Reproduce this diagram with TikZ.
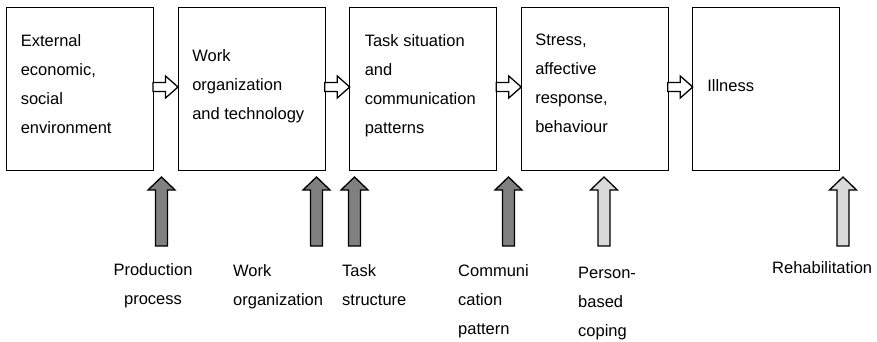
\documentclass[tikz,border=0pt]{standalone}
\usepackage{fontspec}
\setmainfont{Liberation Sans}
\usetikzlibrary{calc}
\definecolor{darkfill}{gray}{0.5}
\definecolor{lightfill}{gray}{0.85}
\begin{document}
\begin{tikzpicture}[x=1pt,y=-1pt,
  box/.style={draw=black, line width=0.8pt, minimum width=147pt, minimum height=163pt, inner sep=0pt},
  txt/.style={anchor=north west, inner sep=0pt, align=left, font=\fontsize{16.5}{29}\selectfont},
  ctxt/.style={txt, anchor=north, align=center},
  % hollow block arrow leading from one stage to the next
  pics/flowarrow/.style={code={
    \draw[line width=1.3pt, fill=white]
      (-12.5,-4.5) -- (0,-4.5) -- (0,-11) -- (12.5,0) -- (0,11) -- (0,4.5) -- (-12.5,4.5) -- cycle;}},
  % filled block arrow pointing up, tip at the origin
  pics/inputarrow/.style={code={
    \draw[line width=1.3pt, fill=#1]
      (0,0) -- (13.5,13) -- (6,13) -- (6,69) -- (-6,69) -- (-6,13) -- (-13.5,13) -- cycle;}}
]
\useasboundingbox (0,0) rectangle (877,341);

% stages
\node[box] (b1) at (79.5,88.5) {};
\node[box] (b2) at (251.5,88.5) {};
\node[box] (b3) at (423,88.5) {};
\node[box] (b4) at (594.5,88.5) {};
\node[box] (b5) at (766,88.5) {};

\node[txt] (t1) at ($(b1.north west)+(15,27.3)$) {External\\economic,\\social\\environment};
\node[txt] (t2) at ($(b2.north west)+(14.5,42.5)$) {Work\\organization\\and technology};
\node[txt] (t3) at ($(b3.north west)+(15.5,27.3)$) {Task situation\\and\\communication\\patterns};
\node[txt] (t4) at ($(b4.north west)+(14.5,27.3)$) {Stress,\\affective\\response,\\behaviour};
\node[txt] (t5) at ($(b5.north west)+(15,72.5)$) {Illness};

% stage-to-stage arrows
\pic at ($(b1.east)!0.5!(b2.west)+(0,-1.5)$) {flowarrow};
\pic at ($(b2.east)!0.5!(b3.west)+(0,-1.5)$) {flowarrow};
\pic at ($(b3.east)!0.5!(b4.west)+(0,-1.5)$) {flowarrow};
\pic at ($(b4.east)!0.5!(b5.west)+(0,-1.5)$) {flowarrow};

% influences acting from below
\coordinate (p1) at (161.5,177);
\coordinate (p2) at (316.5,177);
\coordinate (p3) at (354.5,177);
\coordinate (p4) at (508.5,177);
\coordinate (p5) at (604,177);
\coordinate (p6) at (843,177);
\pic at (p1) {inputarrow=darkfill};
\pic at (p2) {inputarrow=darkfill};
\pic at (p3) {inputarrow=darkfill};
\pic at (p4) {inputarrow=darkfill};
\pic at (p5) {inputarrow=lightfill};
\pic at (p6) {inputarrow=lightfill};

\node[ctxt] (l1) at (153,263) {Production\\process};
\node[txt] (l2) at (233,264) {Work\\organization};
\node[txt] (l3) at (342,264) {Task\\structure};
\node[txt] (l4) at (458,264) {Communi\\cation\\pattern};
\node[txt] (l5) at (578,267) {Person-\\based\\coping};
\node[txt] (l6) at (772,261) {Rehabilitation};
\end{tikzpicture}
\end{document}
